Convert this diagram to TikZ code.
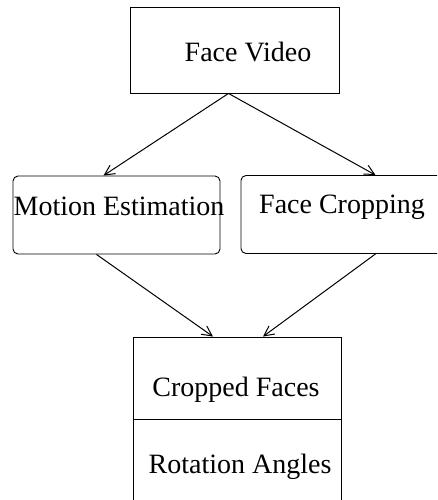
\documentclass[tikz,border=0pt]{standalone}
\usepackage{fontspec}
\setmainfont{Liberation Serif}
\usetikzlibrary{arrows.meta, positioning}

\tikzset{
  box/.style={draw, line width=0.9pt, inner sep=0pt, minimum width=209pt, minimum height=86pt},
  roundbox/.style={box, rounded corners=5pt, minimum height=78pt},
  txt/.style={anchor=base, inner sep=0pt, font=\fontsize{28}{28}\selectfont},
  flow/.style={line width=1pt, -{Straight Barb[length=10pt, width=10pt]}}
}

\begin{document}
\begin{tikzpicture}[x=1pt, y=-1pt]
  \useasboundingbox (0,0) rectangle (437,500);
  \fill[white] (0,0) rectangle (437,500);
  \clip (0,0) rectangle (437,500);

  % === TOP: input ===
  \node[box] (video) at (234.5,50) {};
  \node[txt] (videotxt) at (248,62) {Face Video};

  % === MIDDLE: two processing steps ===
  \node[roundbox, minimum width=207pt] (motion) at (116.5,215) {};
  \node[txt] (motiontxt) at (119,215) {Motion Estimation};
  \node[roundbox] (crop) at (345.5,214.5) {};
  \node[txt] (croptxt) at (342,213) {Face Cropping};

  % === BOTTOM: results (box runs off the page) ===
  \node[box, minimum width=208pt, minimum height=82pt] (faces) at (237,378) {};
  \node[txt] (facestxt) at (236,396) {Cropped Faces};
  \node[box, minimum width=208pt, minimum height=120pt, anchor=north] (angles) at (faces.south) {};
  \node[txt] (anglestxt) at (240,473) {Rotation Angles};

  % connectors
  \draw[flow] ([xshift=-6pt]video.south) -- ([xshift=-13pt]motion.north);
  \draw[flow] ([xshift=-6pt]video.south) -- ([xshift=30pt]crop.north);
  \draw[flow] ([xshift=-20pt]motion.south) -- ([xshift=-24pt]faces.north);
  \draw[flow] ([xshift=30pt]crop.south) -- ([xshift=26pt]faces.north);
\end{tikzpicture}
\end{document}
